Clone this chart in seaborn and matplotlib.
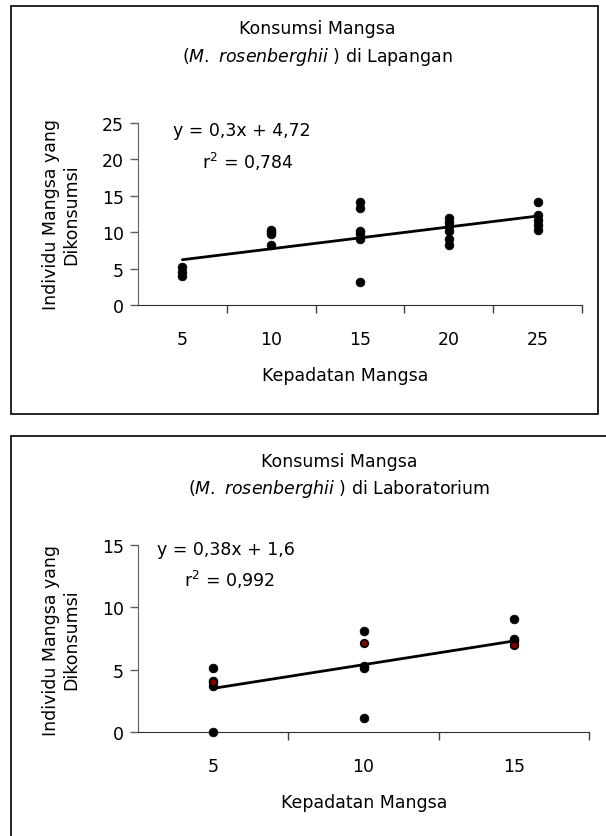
import numpy as np
import matplotlib
matplotlib.use("Agg")
import matplotlib.pyplot as plt
from matplotlib.patches import Rectangle
import seaborn as sns

sns.set_style("white")
plt.rcParams["font.family"] = ["DejaVu Sans"]
plt.rcParams["mathtext.fontset"] = "dejavusans"
plt.rcParams["text.color"] = "black"
plt.rcParams["xtick.color"] = "black"
plt.rcParams["ytick.color"] = "black"

# --- data: lapangan (field) ---
lap_x = [5, 5, 5,
         10, 10, 10, 10,
         15, 15, 15, 15, 15, 15,
         20, 20, 20, 20, 20, 20,
         25, 25, 25, 25, 25]
lap_y = [5.2, 4.6, 4.0,
         10.3, 10.0, 9.7, 8.2,
         14.2, 13.3, 10.2, 9.8, 9.1, 3.1,
         12.0, 11.4, 10.8, 10.1, 9.0, 8.3,
         14.2, 12.3, 11.7, 11.0, 10.3]
lap_slope, lap_intercept = 0.3, 4.72
lap_eq = "y = 0,3x + 4,72"
lap_r2 = "r$^{2}$ = 0,784"
lap_ticks = [5, 10, 15, 20, 25]
lap_yticks = [0, 5, 10, 15, 20, 25]

# --- data: laboratorium ---
lab_x = [5, 5, 5, 5,
         10, 10, 10, 10,
         15, 15, 15]
lab_y = [5.1, 4.1, 3.7, 0.0,
         8.1, 5.3, 5.1, 1.1,
         9.1, 7.5, 7.3]
lab_red_x = [5, 10, 15]
lab_red_y = [4.0, 7.1, 7.0]
lab_slope, lab_intercept = 0.38, 1.6
lab_eq = "y = 0,38x + 1,6"
lab_r2 = "r$^{2}$ = 0,992"
lab_ticks = [5, 10, 15]
lab_yticks = [0, 5, 10, 15]

FS = 12.5
W, H = 606, 837
fig = plt.figure(figsize=(W / 100, H / 100), dpi=100)
fig.patch.set_facecolor("white")


def fx(px):
    return px / W


def fy(py):
    return 1 - py / H


# frames around each chart
fig.add_artist(Rectangle((fx(11), fy(415)), fx(598) - fx(11), fy(7) - fy(415),
                         transform=fig.transFigure, fill=False, lw=1.2, ec="black"))
fig.add_artist(Rectangle((fx(11), fy(850)), fx(640) - fx(11), fy(437) - fy(850),
                         transform=fig.transFigure, fill=False, lw=1.2, ec="black"))


def draw(ax, xs, ys, slope, intercept, cats, yticks):
    sns.scatterplot(x=xs, y=ys, ax=ax, color="black", s=40, edgecolor="black",
                    linewidth=0.5, zorder=3, clip_on=False, legend=False)
    xl = np.array([min(xs), max(xs)], dtype=float)
    sns.lineplot(x=xl, y=slope * xl + intercept, ax=ax, color="black", lw=2.0, zorder=4)
    step = cats[1] - cats[0]
    ax.set_xlim(cats[0] - step / 2, cats[-1] + step / 2)
    ax.set_ylim(yticks[0], yticks[-1])
    ax.set_xticks([c + step / 2 for c in cats])
    ax.set_xticklabels([])
    ax.set_xticks(cats, minor=True)
    ax.set_xticklabels([str(c) for c in cats], minor=True, fontsize=FS)
    ax.tick_params(axis="x", which="major", direction="out", length=6, width=1, color="#404040", bottom=True)
    ax.tick_params(axis="x", which="minor", length=0, pad=18)
    ax.set_yticks(yticks)
    ax.set_yticklabels([str(t) for t in yticks], fontsize=FS)
    ax.tick_params(axis="y", direction="out", length=6, width=1, color="#606060", left=True, pad=4)
    for s in ["top", "right"]:
        ax.spines[s].set_visible(False)
    ax.spines["left"].set_color("#606060")
    ax.spines["bottom"].set_color("#303030")
    ax.set_xlabel("")
    ax.set_ylabel("")
    ax.patch.set_alpha(0)


# --- top chart ---
ax1 = fig.add_axes([fx(138), fy(306), fx(582) - fx(138), fy(124) - fy(306)])
draw(ax1, lap_x, lap_y, lap_slope, lap_intercept, lap_ticks, lap_yticks)
fig.text(fx(317), fy(29), "Konsumsi Mangsa", ha="center", va="center", fontsize=FS)
fig.text(fx(317), fy(57), r"($\mathit{M.}$ $\mathit{rosenberghii}$ ) di Lapangan",
         ha="center", va="center", fontsize=FS)
fig.text(fx(345), fy(376), "Kepadatan Mangsa", ha="center", va="center", fontsize=FS)
fig.text(fx(61), fy(215), "Individu Mangsa yang\nDikonsumsi", ha="center", va="center",
         rotation=90, fontsize=FS, linespacing=1.15)
fig.text(fx(173), fy(131), lap_eq, ha="left", va="center", fontsize=FS)
fig.text(fx(202), fy(162), lap_r2, ha="left", va="center", fontsize=FS)

# --- bottom chart ---
ax2 = fig.add_axes([fx(138), fy(733), fx(589) - fx(138), fy(546) - fy(733)])
draw(ax2, lab_x, lab_y, lab_slope, lab_intercept, lab_ticks, lab_yticks)
sns.scatterplot(x=lab_red_x, y=lab_red_y, ax=ax2, color="#800000", s=30,
                edgecolor="black", linewidth=1.2, zorder=3.5, legend=False)
fig.text(fx(339), fy(462), "Konsumsi Mangsa", ha="center", va="center", fontsize=FS)
fig.text(fx(339), fy(489), r"($\mathit{M.}$ $\mathit{rosenberghii}$ ) di Laboratorium",
         ha="center", va="center", fontsize=FS)
fig.text(fx(364), fy(803), "Kepadatan Mangsa", ha="center", va="center", fontsize=FS)
fig.text(fx(61), fy(640), "Individu Mangsa yang\nDikonsumsi", ha="center", va="center",
         rotation=90, fontsize=FS, linespacing=1.15)
fig.text(fx(157), fy(550), lab_eq, ha="left", va="center", fontsize=FS)
fig.text(fx(184), fy(580), lab_r2, ha="left", va="center", fontsize=FS)

fig.savefig("out.png", dpi=100, facecolor="white")
